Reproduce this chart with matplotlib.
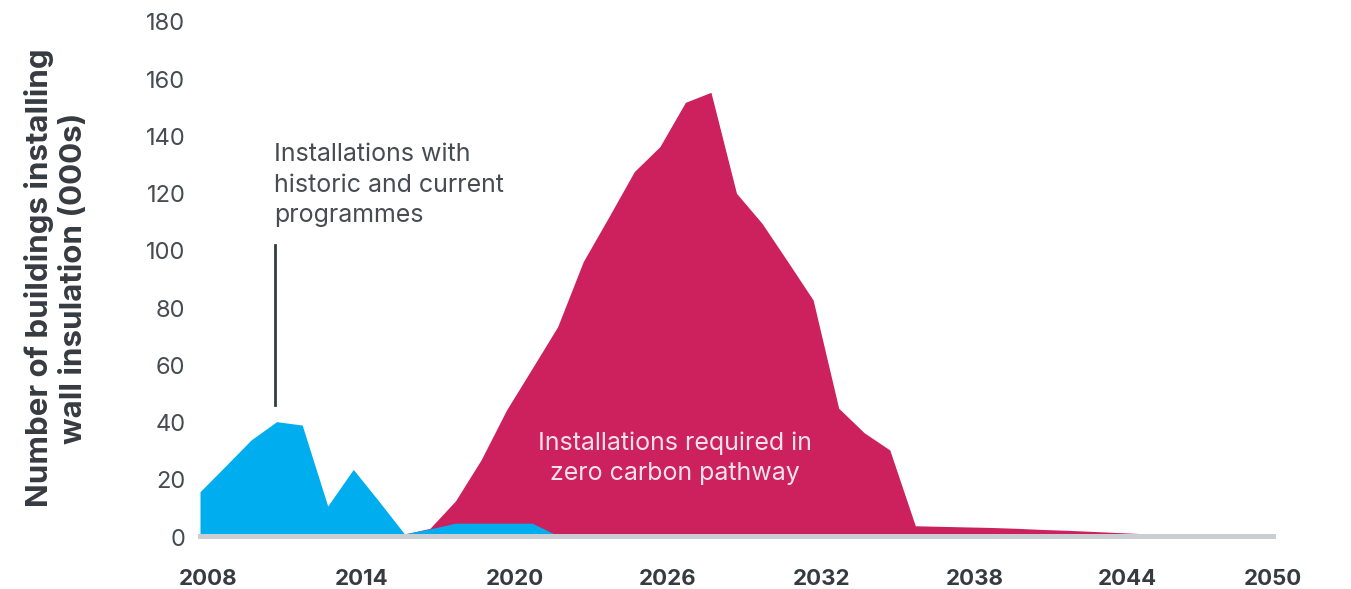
import numpy as np
from matplotlib import pyplot as plt
from matplotlib import transforms

# values in thousands of buildings, one per year 2008..2050
years = np.arange(2008, 2051)

historic = [15.3, 24.3, 33.4, 39.8, 38.6, 10.3, 23.1, 12.0, 0.6, 2.3,
            4.3, 4.3, 4.3, 4.3, 0.0] + [0.0] * 28

required = [0.0] * 8 + [0.5, 2.5, 12.1, 26.4, 43.9, 58.4, 73.0, 95.7,
            111.3, 127.2, 135.9, 151.4, 154.9, 119.6, 109.1, 95.8, 82.3,
            44.5, 35.9, 29.9, 3.4, 3.2, 3.0, 2.8, 2.5, 2.1, 1.8, 1.4, 1.0,
            0.6, 0.2, 0.0, 0.0, 0.0, 0.0]

x_ticks = [2008, 2014, 2020, 2026, 2032, 2038, 2044, 2050]
y_ticks = list(range(0, 181, 20))

BLUE = "#00aeef"
RED = "#cc215c"
GREY = "#cacdd2"
DARK = "#353b41"
TEXT = "#474c52"

plt.rcParams['font.family'] = ['Inter', 'DejaVu Sans']

fig = plt.figure(figsize=(13.51, 5.89), dpi=100)
axes = fig.add_axes([200 / 1351, 1 - 535.5 / 589, 1073 / 1351, 515 / 589])

axes.fill_between(years, 0, required, color=RED, linewidth=0, zorder=2)
axes.fill_between(years, 0, historic, color=BLUE, linewidth=0, zorder=3)
axes.axhline(0, color=GREY, linewidth=3.6, zorder=4, clip_on=False)

axes.set_xlim(2008, 2050)
axes.set_ylim(0, 180)
axes.set_xticks(x_ticks)
axes.set_yticks(y_ticks)
axes.tick_params(axis='both', length=0)
axes.tick_params(axis='y', pad=10.5, labelsize=17, labelcolor=TEXT)
axes.tick_params(axis='x', pad=24, labelsize=16, labelcolor=DARK)
shift_right = transforms.ScaledTranslation(8 / 100, 0, fig.dpi_scale_trans)
shift_down = transforms.ScaledTranslation(0, -1.5 / 100, fig.dpi_scale_trans)
for label in axes.get_xticklabels()[:-1]:
    label.set_transform(label.get_transform() + shift_right)
for label in axes.get_xticklabels():
    label.set_fontweight('bold')
for label in axes.get_yticklabels():
    label.set_transform(label.get_transform() + shift_down)
for side in axes.spines.values():
    side.set_visible(False)

# annotations
axes.text(2010.9, 137.2, "Installations with\nhistoric and current\nprogrammes",
          ha='left', va='top', fontsize=18, color=TEXT, linespacing=1.43)
axes.plot([2010.95, 2010.95], [45.6, 101.5], color=DARK, linewidth=2, zorder=5)
axes.text(2026.6, 27.0, "Installations required in\nzero carbon pathway",
          ha='center', va='center', fontsize=18, color="#f7e1ea", linespacing=1.42)

fig.text(56 / 1351, 1 - 278 / 589, "Number of buildings installing\nwall insulation (000s)",
         rotation=90, ha='center', va='center', fontsize=22.5, fontweight='bold',
         color=DARK, linespacing=1.27, multialignment='center')

fig.savefig("out.png", dpi=100)
